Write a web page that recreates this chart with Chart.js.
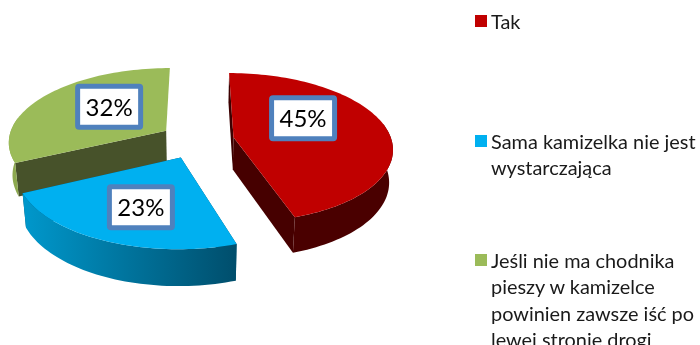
<!DOCTYPE html>
<html lang="pl">
<head>
<meta charset="utf-8">
<title>Kamizelka</title>
<script src="https://cdn.jsdelivr.net/npm/chart.js@4/dist/chart.umd.js"></script>
<style>
    html, body { margin: 0; width: 700px; height: 345px; overflow: hidden; background: #fff; }
    #chart { position: absolute; left: 0; top: 0; }
    .item { position: absolute; left: 491px; font: 19.9px/26.4px Lato, sans-serif; color: #1a1a1a; white-space: nowrap; }
    .item i { position: absolute; left: -16px; top: 7px; width: 12px; height: 12px; }
</style>
</head>
<body>
<canvas id="chart" width="700" height="345"></canvas>
<div id="legend"></div>
<script>
// data
const categories = [
    ['Tak'],
    ['Sama kamizelka nie jest', 'wystarczająca'],
    ['Jeśli nie ma chodnika', 'pieszy w kamizelce', 'powinien zawsze iść po', 'lewej stronie drogi']
];
const shares = [45, 23, 32];
const colors = ['#C00000', '#00B0F0', '#9BBB59'];

// look of the 3D pie: outer wall gradient, left end to right end, and the cut faces (start, end)
const wallLeft = ['#4a0000', '#0098cc', '#8ca84e'];
const wallRight = ['#4a0000', '#004e6c', '#9bbb59'];
const cutColors = [['#3c0000', '#460000'], ['#004e6c', '#004e6c'], ['#47522a', null]];
const explode = [0.235, 0.25, 0.235];
const labelRadius = [0.54, 0.62, 0.53];
const labelTurn = [-21, -3, 9.5];
const legendTop = [8, 128, 247];

const view = { cx: 197, cy: 140, rx: 158, ry: 73.8, persp: 0.138, depth: 33, shrink: 1.02 };

function project(u, v, low) {
    const w = (1 + view.persp * v) * (low ? view.shrink : 1);
    return {
        x: view.cx + view.rx * u / w,
        y: view.cy + (-view.ry * v + (low ? view.depth : 0)) / w
    };
}

// let the arc element trace itself, keep its outer rim as unit circle points
function sliceRim(arc) {
    const rim = [];
    const recorder = new Proxy({}, {
        get(_, name) {
            if (name !== 'arc') return () => {};
            // chart.js may split the outer edge into several arc calls
            return (x, y, r, a0, a1) => {
                if (!(r > 0)) return;
                const steps = Math.max(2, Math.ceil(Math.abs(a1 - a0) / 0.03));
                for (let i = 0; i <= steps; i++) {
                    const a = a0 + (a1 - a0) * i / steps;
                    rim.push([Math.cos(a), -Math.sin(a)]);
                }
            };
        },
        set() { return true; }
    });
    arc.draw(recorder);
    return rim;
}

function tracePath(ctx, points) {
    ctx.beginPath();
    points.forEach((p, i) => i ? ctx.lineTo(p.x, p.y) : ctx.moveTo(p.x, p.y));
    ctx.closePath();
}

function drawSlice(ctx, arc, index) {
    const mid = (arc.startAngle + arc.endAngle) / 2;
    const du = explode[index] * Math.cos(mid);
    const dv = -explode[index] * Math.sin(mid);
    const rim = sliceRim(arc).map(p => [p[0] + du, p[1] + dv]);

    // the two cut faces
    [rim[0], rim[rim.length - 1]].forEach((p, i) => {
        if (!cutColors[index][i]) return;
        tracePath(ctx, [project(p[0], p[1]), project(du, dv), project(du, dv, true), project(p[0], p[1], true)]);
        ctx.fillStyle = cutColors[index][i];
        ctx.fill();
    });

    // the outer wall as one strip, only the part that faces the viewer
    const front = rim.filter(p => p[1] - dv < 0.2);
    const top = rim.map(p => project(p[0], p[1]));
    const xs = top.map(p => p.x);
    const grad = ctx.createLinearGradient(Math.min(...xs), 0, Math.max(...xs), 0);
    grad.addColorStop(0, wallLeft[index]);
    grad.addColorStop(1, wallRight[index]);
    tracePath(ctx, front.map(p => project(p[0], p[1])).concat(front.map(p => project(p[0], p[1], true)).reverse()));
    ctx.fillStyle = grad;
    ctx.fill();

    tracePath(ctx, top.concat([project(du, dv)]));
    ctx.fillStyle = arc.options.backgroundColor;
    ctx.fill();
}

function drawLabel(ctx, arc, index, text) {
    const mid = (arc.startAngle + arc.endAngle) / 2;
    const a = mid + labelTurn[index] * Math.PI / 180;
    const u = explode[index] * Math.cos(mid) + labelRadius[index] * Math.cos(a);
    const v = -explode[index] * Math.sin(mid) - labelRadius[index] * Math.sin(a);
    const c = project(u, v);

    ctx.beginPath();
    ctx.roundRect(c.x - 31.5, c.y - 20.5, 63, 41, 1.5);
    ctx.fillStyle = '#fff';
    ctx.fill();
    ctx.lineWidth = 5;
    ctx.strokeStyle = '#4F81BD';
    ctx.stroke();

    ctx.fillStyle = '#000';
    ctx.font = '24px Lato, sans-serif';
    ctx.textAlign = 'center';
    ctx.textBaseline = 'alphabetic';
    ctx.fillText(text, c.x, c.y + 9);
}

const pie3d = {
    id: 'pie3d',
    beforeDatasetsDraw(chart) {
        const ctx = chart.ctx;
        const arcs = chart.getDatasetMeta(0).data.map((arc, index) => ({ arc, index }));
        // far slices first, the front one goes over them
        arcs.sort((a, b) => {
            const m = s => Math.sin((s.arc.startAngle + s.arc.endAngle) / 2);
            return m(a) - m(b);
        });
        arcs.forEach(s => drawSlice(ctx, s.arc, s.index));
        arcs.forEach(s => drawLabel(ctx, s.arc, s.index, shares[s.index] + '%'));
        return false;
    }
};

new Chart(document.getElementById('chart'), {
    type: 'pie',
    data: {
        labels: categories,
        datasets: [{ data: shares, backgroundColor: colors, borderWidth: 0 }]
    },
    options: {
        responsive: false,
        animation: false,
        events: [],
        plugins: { legend: { display: false }, tooltip: { enabled: false } }
    },
    plugins: [pie3d]
});

document.getElementById('legend').innerHTML = categories.map((lines, i) =>
    `<div class="item" style="top:${legendTop[i]}px"><i style="background:${colors[i]}"></i>${lines.join('<br>')}</div>`
).join('');
</script>
</body>
</html>
